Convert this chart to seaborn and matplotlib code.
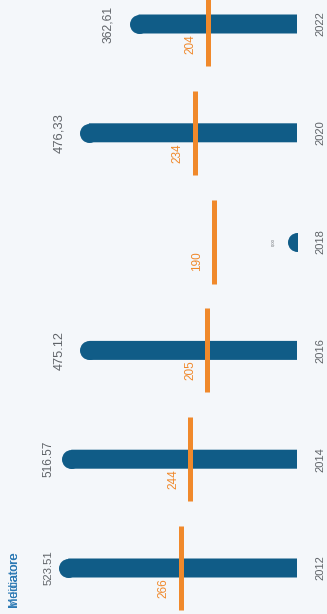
import matplotlib
matplotlib.use("Agg")
import matplotlib.pyplot as plt
import seaborn as sns
import pandas as pd

# Data
years = ["2012", "2014", "2016", "2018", "2020", "2022"]
values = [523.51, 516.57, 475.12, 0.0, 476.33, 362.61]
value_labels = ["523.51", "516.57", "475.12", "0,00", "476,33", "362,61"]
targets = [266, 244, 205, 190, 234, 204]
target_labels = ["266", "244", "205", "190", "234", "204"]
legend_names = ["Indicatore", "Mediatore"]

# Styling
W, H, DPI = 327, 614, 100
BG = "#f4f7fa"
BAR = "#105c87"
ORANGE = "#f0892b"
GREY = "#5f6368"
PX = 0.72                      # points per pixel at 100 dpi
SCALE = 0.437                  # pixels per value unit
AX_RIGHT = 297                 # pixel column of the zero line
BAR_PX = 19                    # bar thickness in pixels
CAT_PX = 108.8                 # spacing between categories in pixels
label_gap = [5, 7, 14, 12, 14, 15]
label_size = [8.2, 8.6, 9.2, 3.0, 9.4, 8.7]

sns.set_theme(style="white")
plt.rcParams["font.family"] = ["Liberation Sans", "DejaVu Sans"]

fig = plt.figure(figsize=(W / DPI, H / DPI), dpi=DPI, facecolor=BG)
ax = fig.add_axes([0, 0, AX_RIGHT / W, 1])
ax.set_facecolor(BG)

order = years[::-1]
df = pd.DataFrame({"year": years, "value": values})
sns.barplot(data=df, x="value", y="year", order=order, orient="h",
            color=BAR, saturation=1, width=BAR_PX / CAT_PX,
            edgecolor="none", linewidth=0, ax=ax)
for patch in ax.patches:
    patch.set_snap(False)

pos = [order.index(y) for y in years]

# rounded ends of the bars
ax.plot(values, pos, linestyle="none", marker="o",
        markersize=BAR_PX * PX, markerfacecolor=BAR,
        markeredgewidth=0, zorder=3)

# target markers
half = 42 / CAT_PX
ax.vlines(targets, [p - half for p in pos], [p + half for p in pos],
          color=ORANGE, linewidth=5 * PX, zorder=4)

r = BAR_PX / 2
for v, p, lab, g, fs in zip(values, pos, value_labels, label_gap, label_size):
    ax.annotate(lab, (v, p), xytext=(-(r + g) * PX, 0),
                textcoords="offset points", rotation=90,
                ha="right", va="center", fontsize=fs, color=GREY, zorder=5)

for t, p, lab in zip(targets, pos, target_labels):
    ax.annotate(lab, (t, p), xytext=(-11 * PX, -20 * PX),
                textcoords="offset points", rotation=90,
                ha="right", va="center", fontsize=8.5, color=ORANGE, zorder=5)

for y, p in zip(years, pos):
    ax.annotate(y, (1, p), xycoords=ax.get_yaxis_transform(),
                xytext=(18 * PX, 0), textcoords="offset points",
                rotation=90, ha="left", va="center", fontsize=8, color=GREY)

for name in legend_names:
    fig.text(14 / W, 1 - 551 / H, name, rotation=90, ha="center", va="top",
             fontsize=9, color="#2a78b3")

ax.set_xlim(AX_RIGHT / SCALE, 0)
ax.set_ylim(5 + 46 / CAT_PX, 5 - (H - 46) / CAT_PX)
ax.set_xticks([])
ax.set_yticks([])
ax.set_xlabel("")
ax.set_ylabel("")
for s in ax.spines.values():
    s.set_visible(False)

fig.savefig("out.png", dpi=DPI, facecolor=BG)
